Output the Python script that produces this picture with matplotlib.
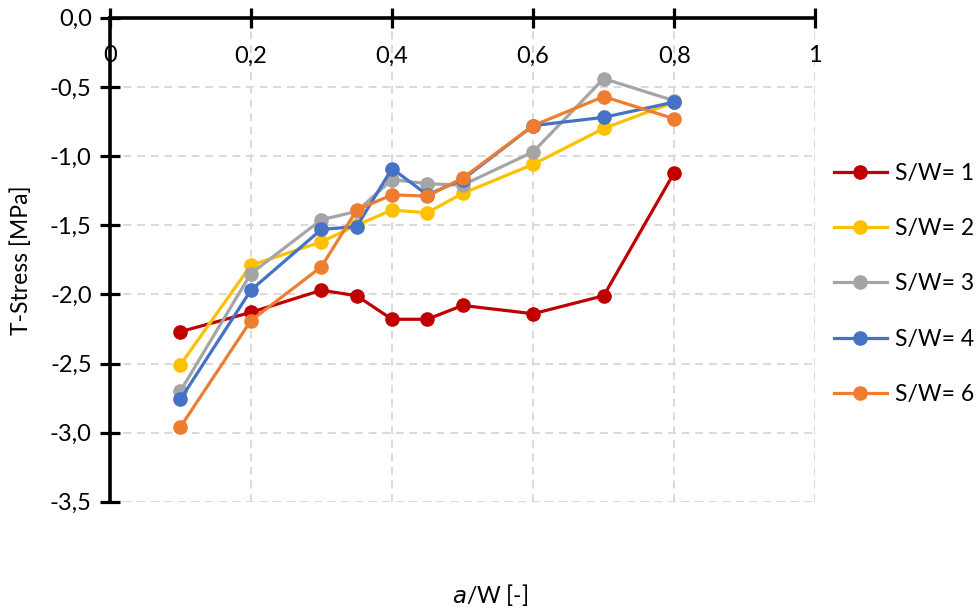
import numpy as np
import matplotlib
matplotlib.use("Agg")
import matplotlib.pyplot as plt
from matplotlib.ticker import FuncFormatter

plt.rcParams['font.family'] = ['Lato', 'DejaVu Sans']

# a/W values
a_w = [0.1, 0.2, 0.3, 0.35, 0.4, 0.45, 0.5, 0.6, 0.7, 0.8]

# T-stress [MPa]
sw1 = [-2.27, -2.13, -1.97, -2.01, -2.18, -2.18, -2.08, -2.14, -2.01, -1.12]
sw2 = [-2.51, -1.79, -1.62, -1.50, -1.39, -1.41, -1.27, -1.06, -0.80, -0.61]
sw3 = [-2.70, -1.85, -1.46, -1.40, -1.17, -1.20, -1.21, -0.97, -0.44, -0.60]
sw4 = [-2.76, -1.97, -1.53, -1.51, -1.09, -1.28, -1.17, -0.78, -0.72, -0.61]
sw6 = [-2.96, -2.19, -1.80, -1.39, -1.28, -1.29, -1.16, -0.78, -0.57, -0.73]

labels = ['S/W= 1', 'S/W= 2', 'S/W= 3', 'S/W= 4', 'S/W= 6']
colors = ['#C00000', '#FFC000', '#A5A5A5', '#4472C4', '#ED7D31']

fig = plt.figure(figsize=(9.8, 6.12), dpi=100)
ax = fig.add_axes([0.112, 0.180, 0.720, 0.791])

for ys, lab, c in zip([sw1, sw2, sw3, sw4, sw6], labels, colors):
    ax.plot(a_w, ys, color=c, lw=2.3, marker='o', ms=9.5, label=lab, clip_on=False)

ax.set_xlim(0, 1)
ax.set_ylim(-3.5, 0)
ax.set_xticks(np.arange(0, 1.01, 0.2))
ax.set_yticks(np.arange(-3.5, 0.01, 0.5))


def fmt_x(v, pos):
    if abs(v - round(v)) < 1e-9:
        return '%d' % round(v)
    return ('%.1f' % v).replace('.', ',')


def fmt_y(v, pos):
    return ('%.1f' % v).replace('.', ',')


ax.xaxis.set_major_formatter(FuncFormatter(fmt_x))
ax.yaxis.set_major_formatter(FuncFormatter(fmt_y))

ax.xaxis.set_ticks_position('top')
ax.tick_params(axis='x', direction='inout', length=14, width=2.3, labelsize=17,
               labeltop=True, labelbottom=False, pad=-42)
ax.tick_params(axis='y', direction='inout', length=14, width=2.3, labelsize=17, pad=6)

for s in ['bottom', 'right']:
    ax.spines[s].set_visible(False)
for s in ['top', 'left']:
    ax.spines[s].set_linewidth(2.6)
    ax.spines[s].set_color('black')

ax.grid(True, color='#D9D9D9', ls=(0, (4, 3)), lw=1.4)
ax.set_axisbelow(True)
# grid line at bottom and right edge too
ax.axhline(-3.5, color='#D9D9D9', ls=(0, (4, 3)), lw=1.4, zorder=0)
ax.axvline(1.0, color='#D9D9D9', ls=(0, (4, 3)), lw=1.4, zorder=0)

fig.text(0.022, 0.575, 'T-Stress [MPa]', rotation=90, ha='center', va='center', fontsize=16.5)
fig.text(0.50, 0.028, r'$\mathit{a}$/W [-]', ha='center', va='center', fontsize=16.5)

fig.legend(loc='center left', bbox_to_anchor=(0.851, 0.536), frameon=False,
           fontsize=16.5, labelspacing=1.5, handlelength=2.3, handletextpad=0.35,
           borderaxespad=0, borderpad=0)

fig.savefig('out.png', dpi=100)
